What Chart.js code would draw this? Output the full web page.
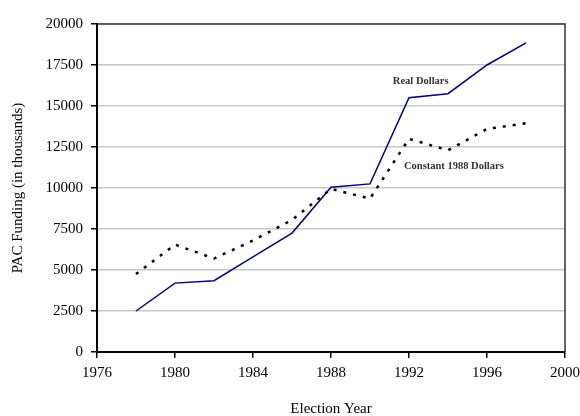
<!DOCTYPE html>
<html>
<head>
<meta charset="utf-8">
<script src="https://cdn.jsdelivr.net/npm/chart.js@4/dist/chart.umd.min.js"></script>
<style>
  html, body { margin: 0; padding: 0; background: #fff; }
  #wrap { width: 580px; height: 416px; }
</style>
</head>
<body>
<div id="wrap"><canvas id="pac"></canvas></div>
<script>
// Election years and PAC funding (thousands)
const years = [1978, 1980, 1982, 1984, 1986, 1988, 1990, 1992, 1994, 1996, 1998];
const realDollars = [2500, 4200, 4350, 5800, 7250, 10050, 10250, 15500, 15750, 17500, 18850];
const constantDollars = [4750, 6550, 5700, 6800, 8050, 9950, 9350, 13000, 12300, 13600, 13950];

// text labels placed next to the lines (in data units)
const seriesLabels = [
    { text: 'Real Dollars', x: 1992.6, y: 16500 },
    { text: 'Constant 1988 Dollars', x: 1994.3, y: 11350 }
];

const serif = "'Liberation Serif', 'Times New Roman', serif";

// Draw the frame (top/right) and the in-chart labels
const framePlugin = {
    id: 'frame',
    afterDatasetsDraw(chart) {
        const { ctx, chartArea, scales } = chart;
        ctx.save();
        ctx.strokeStyle = '#333';
        ctx.lineWidth = 1.5;
        ctx.beginPath();
        ctx.moveTo(chartArea.left, chartArea.top);
        ctx.lineTo(chartArea.right, chartArea.top);
        ctx.lineTo(chartArea.right, chartArea.bottom);
        ctx.stroke();

        ctx.fillStyle = '#333';
        ctx.font = 'bold 10.5px ' + serif;
        ctx.textAlign = 'center';
        ctx.textBaseline = 'middle';
        seriesLabels.forEach(l => {
            ctx.fillText(l.text, scales.x.getPixelForValue(l.x), scales.y.getPixelForValue(l.y));
        });
        ctx.restore();
    }
};

new Chart(document.getElementById('pac'), {
    type: 'line',
    data: {
        datasets: [
            {
                label: 'Real Dollars',
                data: years.map((y, i) => ({ x: y, y: realDollars[i] })),
                borderColor: '#000080',
                borderWidth: 1.5,
                pointRadius: 0,
                tension: 0
            },
            {
                label: 'Constant 1988 Dollars',
                data: years.map((y, i) => ({ x: y, y: constantDollars[i] })),
                borderColor: '#000',
                borderWidth: 2.5,
                borderDash: [3, 7],
                pointRadius: 0,
                tension: 0
            }
        ]
    },
    options: {
        responsive: true,
        maintainAspectRatio: false,
        animation: false,
        layout: { padding: { top: 24, right: 15, left: 0, bottom: 0 } },
        plugins: {
            legend: { display: false },
            tooltip: { enabled: false }
        },
        scales: {
            x: {
                type: 'linear',
                min: 1976,
                max: 2000,
                afterFit(scale) {
                    scale.height = 64;
                    scale.paddingRight = 0;
                    scale.paddingLeft = 0;
                },
                ticks: {
                    stepSize: 4,
                    color: '#000',
                    padding: 6,
                    maxRotation: 0,
                    font: { family: serif, size: 15 },
                    callback: v => String(v)
                },
                grid: { drawOnChartArea: false, drawTicks: true, tickLength: 6, color: '#000', lineWidth: 1.5 },
                border: { color: '#000', width: 2 },
                title: {
                    display: true,
                    text: 'Election Year',
                    color: '#000',
                    font: { family: serif, size: 15 },
                    padding: { top: 0, bottom: -2 }
                }
            },
            y: {
                min: 0,
                max: 20000,
                afterFit(scale) { scale.width = 97; },
                ticks: {
                    stepSize: 2500,
                    color: '#000',
                    padding: 8,
                    font: { family: serif, size: 15 },
                    callback: v => String(v)
                },
                grid: {
                    color: '#c8c8c8',
                    lineWidth: 1.5,
                    tickLength: 6,
                    tickColor: '#000'
                },
                border: { color: '#000', width: 2 },
                title: {
                    display: true,
                    text: 'PAC Funding (in thousands)',
                    color: '#000',
                    font: { family: serif, size: 15 },
                    padding: { top: 9, bottom: 0 }
                }
            }
        }
    },
    plugins: [framePlugin]
});
</script>
</body>
</html>
